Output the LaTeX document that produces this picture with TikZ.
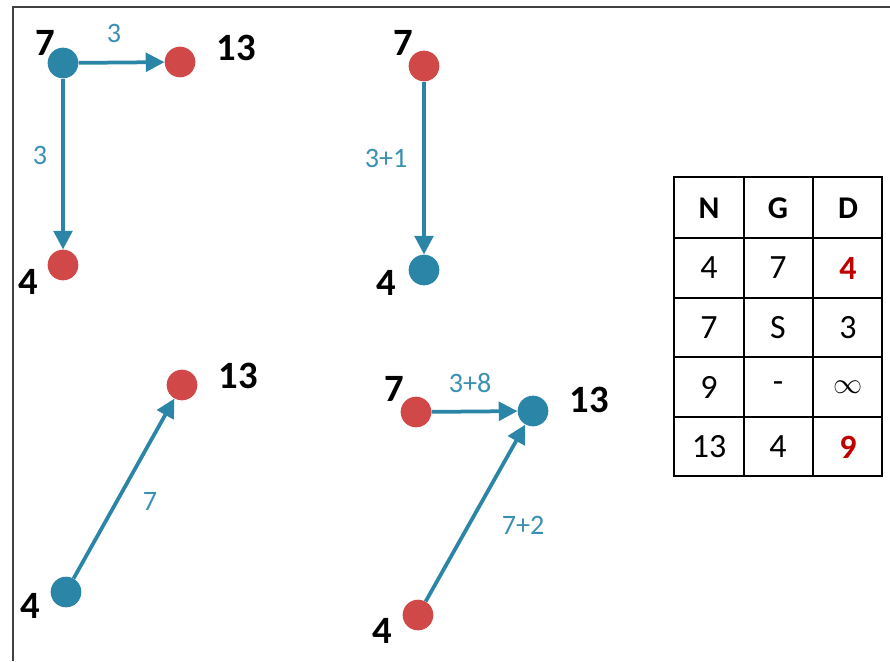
\documentclass[tikz,border=0pt]{standalone}
\usepackage{fontspec}
\setmainfont{Carlito}
\usepackage{tikz}
\usetikzlibrary{arrows.meta,positioning}
\definecolor{sptblue}{HTML}{2A85A6}
\definecolor{sptlight}{HTML}{3A90B2}
\definecolor{sptred}{HTML}{D04848}
\definecolor{sptdark}{HTML}{C00000}
\definecolor{frameg}{HTML}{404040}
\tikzset{
  >={Triangle[length=5.6mm,width=5.6mm]},
  % graf
  bv/.style={circle,fill=sptblue,inner sep=0pt,minimum size=9.2mm},
  rv/.style={circle,fill=sptred,inner sep=0pt,minimum size=9.2mm},
  edge/.style={->,draw=sptblue,line width=3.2pt},
  num/.style={font=\fontsize{33}{36}\selectfont\bfseries,inner sep=0pt},
  wt/.style={font=\fontsize{24}{27}\selectfont,text=sptlight,inner sep=0pt},
  % tabell
  tab/.style={draw=black,line width=1.1pt},
  cell/.style={font=\fontsize{29}{32}\selectfont,inner sep=0pt},
  hcell/.style={cell,font=\fontsize{27}{30}\selectfont\bfseries},
  best/.style={cell,font=\fontsize{29}{32}\selectfont\bfseries,text=sptdark},
  frame/.style={draw=frameg,line width=1.6pt},
}
\begin{document}
\begin{tikzpicture}[x=0.03cm,y=-0.03cm]
  \useasboundingbox (0,0) rectangle (890,661);
  \draw[frame] (13,661) -- (13,7) -- (890,7);
  % steg 1
  \node[bv] (a7) at (63,63) {};
  \node[rv] (a13) at (180,62) {};
  \node[rv] (a4) at (63,265) {};
  \node[num] (la7) at (45,43) {7};
  \node[num] (la13) at (236,48) {13};
  \node[num] (la4) at (28,282) {4};
  \draw[edge] (a7) -- (a13);
  \draw[edge] (a7) -- (a4);
  \node[wt] (wa1) at (114,33) {3};
  \node[wt] (wa2) at (40,155) {3};
  % steg 2
  \node[rv] (b7) at (424,66) {};
  \node[bv] (b4) at (424,270) {};
  \node[num] (lb7) at (403,43) {7};
  \node[num] (lb4) at (386,283) {4};
  \draw[edge] (b7) -- (b4);
  \node[wt] (wb1) at (386,158) {3+1};
  % steg 3
  \node[rv] (c13) at (182,385) {};
  \node[bv] (c4) at (66,592) {};
  \node[num] (lc13) at (238,376) {13};
  \node[num] (lc4) at (30,606) {4};
  \draw[edge] (c4) -- (c13);
  \node[wt] (wc1) at (150,501) {7};
  % steg 4
  \node[rv] (d7) at (416,412) {};
  \node[bv] (d13) at (533,411) {};
  \node[rv] (d4) at (418,615) {};
  \node[num] (ld7) at (394,389) {7};
  \node[num] (ld13) at (589,400) {13};
  \node[num] (ld4) at (382,631) {4};
  \draw[edge] (d7) -- (d13);
  \draw[edge] (d4) -- (d13);
  \node[wt] (wd1) at (470,383) {3+8};
  \node[wt] (wd2) at (523,525) {7+2};
  % tabell
  \draw[tab] (674,177) rectangle (882,476);
  \foreach \x in {744,813} \draw[tab] (\x,177) -- (\x,476);
  \foreach \y in {238,298,357,417} \draw[tab] (674,\y) -- (882,\y);
  \node[hcell] (hn) at (709,208) {N};
  \node[hcell] (hg) at (778,208) {G};
  \node[hcell] (hd) at (848,208) {D};
  \node[cell] (n1) at (709,268) {4};
  \node[cell] (g1) at (778,268) {7};
  \node[best] (d1) at (848,268) {4};
  \node[cell] (n2) at (709,328) {7};
  \node[cell] (g2) at (778,328) {S};
  \node[cell] (d2) at (848,328) {3};
  \node[cell] (n3) at (709,387) {9};
  \node[cell] (g3) at (778,387) {-};
  \node[cell] (d3) at (848,387) {$\infty$};
  \node[cell] (n4) at (709,447) {13};
  \node[cell] (g4) at (778,447) {4};
  \node[best] (d4) at (848,447) {9};
\end{tikzpicture}
\end{document}
